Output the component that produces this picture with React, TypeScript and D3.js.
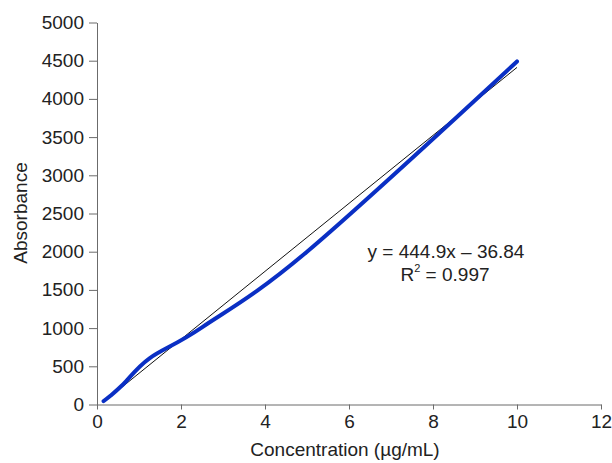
import React, { useEffect, useRef } from 'react';
import * as d3 from 'd3';

// standard curve (serial dilution)
const concentrations = [0.156, 0.3125, 0.625, 1.25, 2.5, 5, 10];
const absorbance = [45, 110, 265, 605, 1010, 2000, 4490];
const xTicks = [0, 2, 4, 6, 8, 10, 12];
const yTicks = [0, 500, 1000, 1500, 2000, 2500, 3000, 3500, 4000, 4500, 5000];
const slope = 444.9;
const intercept = -36.84;
const eqLine1 = 'y = 444.9x \u2013 36.84';
const eqR2 = '0.997';

const W = 612;
const H = 463;
const FONT = '"Liberation Sans", Arial, Helvetica, sans-serif';

const App = () => {
  const ref = useRef<SVGSVGElement>(null);

  useEffect(() => {
    if (!ref.current) return;
    const svg = d3.select(ref.current);
    svg.selectAll('*').remove();

    const x = d3.scaleLinear().domain([0, 12]).range([97, 601]);
    const y = d3.scaleLinear().domain([0, 5000]).range([404.5, 22.5]);

    const axisColor = '#6b6b6b';

    // x axis
    const gx = svg.append('g').attr('transform', `translate(0,${y(0)})`);
    gx.call(d3.axisBottom(x).tickValues(xTicks).tickFormat(d3.format('d')).tickSize(5).tickPadding(5).tickSizeOuter(0));
    gx.select('.domain').attr('stroke', axisColor);
    gx.selectAll('.tick line').attr('stroke', axisColor);
    gx.selectAll('.tick text')
      .attr('fill', '#222')
      .style('font-family', FONT)
      .style('font-size', '19px');

    // y axis
    const gy = svg.append('g').attr('transform', `translate(${x(0)},0)`);
    gy.call(d3.axisLeft(y).tickValues(yTicks).tickFormat(d3.format('d')).tickSize(8).tickPadding(5).tickSizeOuter(0));
    gy.select('.domain').attr('stroke', axisColor);
    gy.selectAll('.tick line').attr('stroke', axisColor);
    gy.selectAll('.tick text')
      .attr('fill', '#222')
      .style('font-family', FONT)
      .style('font-size', '19px');

    // axis titles
    svg.append('text')
      .attr('x', 345)
      .attr('y', 456)
      .attr('text-anchor', 'middle')
      .attr('fill', '#222')
      .style('font-family', FONT)
      .style('font-size', '19px')
      .text('Concentration (\u00b5g/mL)');

    svg.append('text')
      .attr('transform', 'translate(27,213) rotate(-90)')
      .attr('text-anchor', 'middle')
      .attr('fill', '#222')
      .style('font-family', FONT)
      .style('font-size', '19px')
      .text('Absorbance');

    // trend line
    const x0 = concentrations[0];
    const x1 = concentrations[concentrations.length - 1];
    svg.append('line')
      .attr('x1', x(x0))
      .attr('y1', y(slope * x0 + intercept))
      .attr('x2', x(x1))
      .attr('y2', y(slope * x1 + intercept))
      .attr('stroke', '#111')
      .attr('stroke-width', 1);

    // smoothed data line
    const pts = concentrations.map((c, i) => [c, absorbance[i]] as [number, number]);
    const line = d3.line<[number, number]>()
      .x(d => x(d[0]))
      .y(d => y(d[1]))
      .curve(d3.curveCardinal.tension(0));

    svg.append('path')
      .datum(pts)
      .attr('d', line)
      .attr('fill', 'none')
      .attr('stroke', '#0a2fc4')
      .attr('stroke-width', 4)
      .attr('stroke-linecap', 'round')
      .attr('stroke-linejoin', 'round');

    // equation
    const eq = svg.append('g')
      .style('font-family', FONT)
      .style('font-size', '19px')
      .attr('fill', '#222');
    eq.append('text')
      .attr('x', 446)
      .attr('y', 258)
      .attr('text-anchor', 'middle')
      .text(eqLine1);
    const r2 = eq.append('text')
      .attr('x', 445)
      .attr('y', 281)
      .attr('text-anchor', 'middle');
    r2.append('tspan').text('R');
    r2.append('tspan').attr('dy', -9).style('font-size', '11px').text('2');
    r2.append('tspan').attr('dy', 9).text(` = ${eqR2}`);
  }, []);

  return (
    <div style={{ position: 'fixed', left: 0, top: 0, width: W, height: H, background: '#fff' }}>
      <svg ref={ref} width={W} height={H} style={{ display: 'block' }} />
    </div>
  );
};

export default App;
